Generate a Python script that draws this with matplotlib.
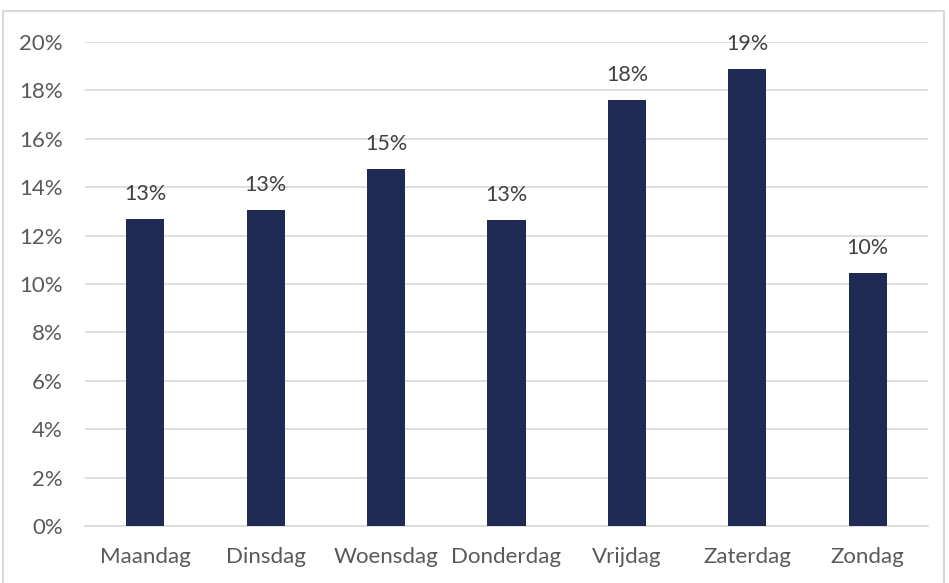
import matplotlib.pyplot as plt
from matplotlib.patches import Rectangle
from matplotlib.ticker import FuncFormatter

days = ['Maandag', 'Dinsdag', 'Woensdag', 'Donderdag', 'Vrijdag', 'Zaterdag', 'Zondag']
shares = [12.7, 13.05, 14.75, 12.65, 17.6, 18.9, 10.45]
labels = ['13%', '13%', '15%', '13%', '18%', '19%', '10%']

plt.rcParams['font.family'] = ['Lato', 'DejaVu Sans']
text_color = '#595959'

fig = plt.figure(figsize=(9.49, 5.83), dpi=100)
# light frame round the chart
fig.patches.append(Rectangle((3 / 949, -0.01), 941 / 949, 1 - 11 / 583 + 0.01,
                             transform=fig.transFigure, fill=False,
                             edgecolor='#d9d9d9', linewidth=1.5))

ax = fig.add_axes([85 / 949, 1 - 526 / 583, (928 - 85) / 949, (526 - 42) / 583])
x = range(len(days))
bars = ax.bar(x, shares, width=0.316, color='#1f2a55', zorder=3)

for b, lab in zip(bars, labels):
    ax.text(b.get_x() + b.get_width() / 2, b.get_height() + 0.62, lab,
            ha='center', va='bottom', fontsize=15.5, color='#404040')

ax.set_xlim(-0.5, len(days) - 0.5)
ax.set_ylim(0, 20)
ax.set_yticks(range(0, 21, 2))
ax.yaxis.set_major_formatter(FuncFormatter(lambda v, p: f'{v:.0f}%'))
ax.set_xticks(list(x))
ax.set_xticklabels(days)
ax.grid(axis='y', color='#d9d9d9', linewidth=1.2, zorder=0)
for s in ['top', 'right', 'left']:
    ax.spines[s].set_visible(False)
ax.spines['bottom'].set_color('#d9d9d9')
ax.spines['bottom'].set_linewidth(1.2)
ax.tick_params(length=0, labelsize=16, colors=text_color)
ax.tick_params(axis='x', pad=15)
ax.tick_params(axis='y', pad=16)

fig.savefig('out.png', dpi=100)
